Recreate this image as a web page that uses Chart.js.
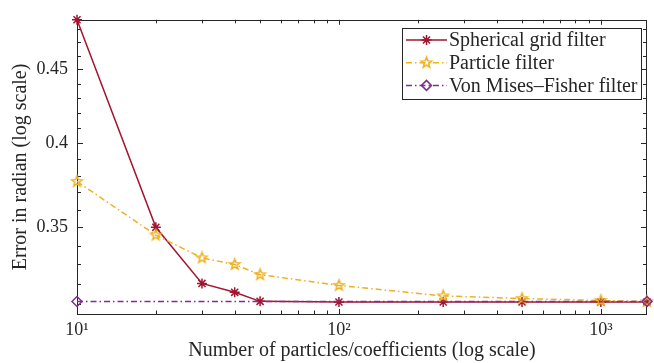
<!DOCTYPE html>
<html>
<head>
<meta charset="utf-8">
<script src="https://cdn.jsdelivr.net/npm/chart.js@4.4.1/dist/chart.umd.min.js"></script>
<style>
  html, body { margin: 0; padding: 0; background: #fff; }
  #wrap { width: 654px; height: 363px; position: relative; }
</style>
</head>
<body>
<div id="wrap"><canvas id="errChart"></canvas></div>
<script>
// data
const xValues = [10, 20, 30, 40, 50, 100, 250, 500, 1000, 1500];
const sphericalGrid = [0.487, 0.350, 0.3201, 0.3156, 0.3111, 0.3108, 0.3108, 0.3108, 0.3108, 0.3108];
const particleFilter = [0.3765, 0.3457, 0.3334, 0.3299, 0.3246, 0.3191, 0.3138, 0.3125, 0.3115, 0.3110];
const vmfX = [10, 1500];
const vmfFilter = [0.3110, 0.3110];

const seriesLabels = ["Spherical grid filter", "Particle filter", "Von Mises\u2013Fisher filter"];

// ticks
const xTicks = [10, 20, 30, 40, 50, 60, 70, 80, 90, 100, 200, 300, 400, 500, 600, 700, 800, 900, 1000];
const xMajor = [10, 100, 1000];
const xTickLabels = ["10\u00b9", "10\u00b2", "10\u00b3"];
const yTicks = [0.31, 0.32, 0.33, 0.34, 0.35, 0.36, 0.37, 0.38, 0.39, 0.40, 0.41, 0.42, 0.43, 0.44, 0.45, 0.46, 0.47, 0.48];
const yMajor = [0.35, 0.4, 0.45];
const yTickLabels = ["0.35", "0.4", "0.45"];

const RED = "#A2142F";
const ORANGE = "#EDB120";
const PURPLE = "#7E2F8E";
const AXIS = "#262626";
const FONT = "'Liberation Serif', 'DejaVu Serif', serif";
const DASHDOT = [6, 3, 1.5, 3];

function near(a, b) { return Math.abs(a - b) < 1e-6; }
function majorIndex(list, v) { return list.findIndex(m => near(m, v)); }

// pentagram marker (MATLAB 'p')
function pentagram(color, r) {
  const s = Math.ceil(r * 2 + 4);
  const c = document.createElement("canvas");
  c.width = s; c.height = s;
  const g = c.getContext("2d");
  g.beginPath();
  for (let i = 0; i < 10; i++) {
    const rad = i % 2 === 0 ? r : r * 0.42;
    const a = -Math.PI / 2 + i * Math.PI / 5;
    const px = s / 2 + rad * Math.cos(a);
    const py = s / 2 + rad * Math.sin(a);
    if (i === 0) g.moveTo(px, py); else g.lineTo(px, py);
  }
  g.closePath();
  g.strokeStyle = color;
  g.lineWidth = 1.5;
  g.stroke();
  return c;
}
const starImg = pentagram(ORANGE, 5.5);

const boxAxes = {
  id: "boxAxes",
  beforeDatasetsDraw(chart) {
    const { ctx, chartArea: a, scales: { x, y } } = chart;
    ctx.save();
    ctx.strokeStyle = AXIS;
    ctx.lineWidth = 1;
    const seg = (x1, y1, x2, y2) => { ctx.beginPath(); ctx.moveTo(x1, y1); ctx.lineTo(x2, y2); ctx.stroke(); };
    xTicks.forEach(v => {
      const px = Math.round(x.getPixelForValue(v)) + 0.5;
      const len = majorIndex(xMajor, v) >= 0 ? 5 : 3.5;
      seg(px, a.bottom, px, a.bottom - len);
      seg(px, a.top, px, a.top + len);
    });
    yTicks.forEach(v => {
      const py = Math.round(y.getPixelForValue(v)) + 0.5;
      const len = majorIndex(yMajor, v) >= 0 ? 6 : 4;
      seg(a.left, py, a.left + len, py);
      seg(a.right, py, a.right - len, py);
    });
    ctx.strokeRect(Math.round(a.left) + 0.5, Math.round(a.top) + 0.5,
      Math.round(a.right - a.left) - 1, Math.round(a.bottom - a.top));
    ctx.restore();
  },
  afterDraw(chart) {
    const { ctx } = chart;
    ctx.save();
    const bx = 402, by = 28, bw = 239, bh = 71;
    ctx.fillStyle = "#fff";
    ctx.fillRect(bx, by, bw, bh);
    ctx.strokeStyle = AXIS;
    ctx.lineWidth = 1;
    ctx.strokeRect(bx + 0.5, by + 0.5, bw, bh);
    chart.data.datasets.forEach((ds, i) => {
      const ry = 40 + i * 22.7;
      ctx.strokeStyle = ds.borderColor;
      ctx.lineWidth = 1.5;
      ctx.setLineDash(ds.borderDash || []);
      ctx.beginPath(); ctx.moveTo(406, ry); ctx.lineTo(447, ry); ctx.stroke();
      ctx.setLineDash([]);
      ctx.fillStyle = ds.pointBackgroundColor;
      Chart.helpers.drawPoint(ctx, {
        pointStyle: ds.pointStyle, radius: ds.pointRadius, rotation: 0, borderWidth: ds.pointBorderWidth
      }, 426.5, ry);
      ctx.fillStyle = AXIS;
      ctx.font = "20px " + FONT;
      ctx.textBaseline = "middle";
      ctx.fillText(ds.label, 449, ry + 1);
    });
    ctx.restore();
  }
};

new Chart(document.getElementById("errChart"), {
  type: "line",
  data: {
    datasets: [
      {
        label: seriesLabels[0],
        data: xValues.map((v, i) => ({ x: v, y: sphericalGrid[i] })),
        borderColor: RED,
        borderWidth: 1.5,
        pointStyle: "star",
        pointRadius: 5,
        pointBorderWidth: 1.5,
        pointBorderColor: RED,
        pointBackgroundColor: RED,
        order: 3,
        clip: false
      },
      {
        label: seriesLabels[1],
        data: xValues.map((v, i) => ({ x: v, y: particleFilter[i] })),
        borderColor: ORANGE,
        borderWidth: 1.5,
        borderDash: DASHDOT,
        pointStyle: starImg,
        pointRadius: 5.5,
        pointBorderWidth: 1.5,
        pointBackgroundColor: ORANGE,
        order: 2,
        clip: false
      },
      {
        label: seriesLabels[2],
        data: vmfX.map((v, i) => ({ x: v, y: vmfFilter[i] })),
        borderColor: PURPLE,
        borderWidth: 1.5,
        borderDash: DASHDOT,
        pointStyle: "rectRot",
        pointRadius: 5,
        pointBorderWidth: 1.5,
        pointBorderColor: PURPLE,
        pointBackgroundColor: "rgba(0,0,0,0)",
        order: 1,
        clip: false
      }
    ]
  },
  options: {
    responsive: true,
    maintainAspectRatio: false,
    animation: false,
    layout: { padding: { top: 16, right: 2, left: 0, bottom: 0 } },
    plugins: { legend: { display: false }, tooltip: { enabled: false } },
    scales: {
      x: {
        type: "logarithmic",
        min: 10,
        max: 1500,
        grid: { display: false, drawTicks: false },
        border: { display: false },
        afterBuildTicks: s => { s.ticks = xTicks.map(v => ({ value: v })); },
        afterFit: s => { s.height = 49; },
        ticks: {
          autoSkip: false,
          maxRotation: 0,
          padding: 5,
          color: AXIS,
          font: { family: FONT, size: 18 },
          callback: v => { const k = majorIndex(xMajor, v); return k >= 0 ? xTickLabels[k] : ""; }
        },
        title: {
          display: true,
          text: "Number of particles/coefficients (log scale)",
          color: AXIS,
          font: { family: FONT, size: 20 },
          padding: { top: 0, bottom: 0 }
        }
      },
      y: {
        type: "logarithmic",
        min: 0.3049,
        max: 0.487,
        grid: { display: false, drawTicks: false },
        border: { display: false },
        afterBuildTicks: s => { s.ticks = yTicks.map(v => ({ value: v })); },
        afterFit: s => { s.width = 77; },
        ticks: {
          autoSkip: false,
          padding: 9,
          color: AXIS,
          font: { family: FONT, size: 18 },
          callback: v => { const k = majorIndex(yMajor, v); return k >= 0 ? yTickLabels[k] : ""; }
        },
        title: {
          display: true,
          text: "Error in radian (log scale)",
          color: AXIS,
          font: { family: FONT, size: 20 },
          padding: { top: 9, bottom: 0 }
        }
      }
    }
  },
  plugins: [boxAxes]
});
</script>
</body>
</html>
